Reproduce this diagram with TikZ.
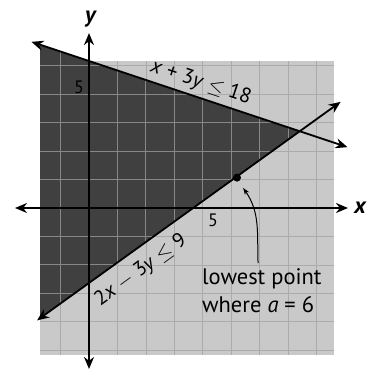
\documentclass[tikz,border=0pt]{standalone}
\usepackage{amsmath,amssymb}
\usepackage{fontspec}
\setmainfont{PT Sans}
\usepackage{xcolor}
\usepackage{tikz}
\usetikzlibrary{arrows.meta,positioning,calc}
\definecolor{shadedark}{gray}{0.25}
\definecolor{shadelight}{gray}{0.79}
\definecolor{gridlight}{gray}{0.67}
\definecolor{griddark}{gray}{0.53}

\begin{document}
\begin{tikzpicture}[x=24.5pt, y=24.5pt, font=\fontsize{21}{25}\selectfont,
  axisline/.style={line width=1.8pt, {Stealth[length=12pt,width=10pt]}-{Stealth[length=12pt,width=10pt]}},
  bound/.style={line width=1.8pt, {Stealth[length=12pt,width=10pt]}-{Stealth[length=12pt,width=10pt]}}]
\useasboundingbox (-3.633,-6.612) rectangle (11.469,8.490);
% grid, light and dark shading
\fill[shadelight] (-2,-6) rectangle (10,6);
\draw[gridlight, line width=0.8pt] (-2,-6) grid (10,6);
\fill[shadedark] (-2,6.667) -- (8.60,3.133) -- (-2,-4.5) -- cycle;
\begin{scope}
\clip (-2,6.667) -- (8.60,3.133) -- (-2,-4.5) -- cycle;
\draw[griddark, line width=1pt] (-2,-6) grid (10,7);
\end{scope}
% axes
\coordinate (xl) at (-3.02,0); \coordinate (xr) at (10.57,0);
\coordinate (yb) at (0,-6.57); \coordinate (yt) at (0,7.14);
\draw[axisline] (xl) -- (xr);
\draw[axisline] (yb) -- (yt);
\node[font=\fontsize{23}{25}\selectfont\bfseries\itshape] (xlab) at (11.06,0) {x};
\node[font=\fontsize{23}{25}\selectfont\bfseries\itshape] (ylab) at (0.05,7.7) {y};
\node[font=\fontsize{18}{20}\selectfont] (ytick) at (-0.41,4.94) {5};
\node[font=\fontsize{18}{20}\selectfont] (xtick) at (5.06,-0.49) {5};
% boundary lines
\coordinate (ia) at (-2.35,6.783); \coordinate (ib) at (10.55,2.483);
\coordinate (ja) at (-2.12,-4.586); \coordinate (jb) at (10.27,4.334);
\draw[bound] (ia) -- (ib);
\draw[bound] (ja) -- (jb);
\node[rotate=-18.4, inner sep=0pt] (ineqa) at (4.57,5.12) {\textit{x} + 3\textit{y} $\leq$ 18};
\node[rotate=36, inner sep=0pt, font=\fontsize{20.5}{24}\selectfont] (ineqb) at (2.12,-2.55) {2\textit{x} $-$ 3\textit{y} $\leq$ 9};
% lowest point
\coordinate (lowpt) at (6.04,1.24);
\fill (lowpt) circle (4pt);
\node[font=\fontsize{22.5}{28}\selectfont, align=left, anchor=north west, inner sep=0pt] (lowtxt) at (4.61,-2.45) {lowest point\\where \textit{a} = 6};
\draw[line width=1pt, -{Stealth[length=7pt,width=5pt]}] ($(lowtxt.north west)+(2.29,0.2)$) to[out=92, in=-55] ($(lowpt)+(0.25,-0.42)$);
\end{tikzpicture}
\end{document}
